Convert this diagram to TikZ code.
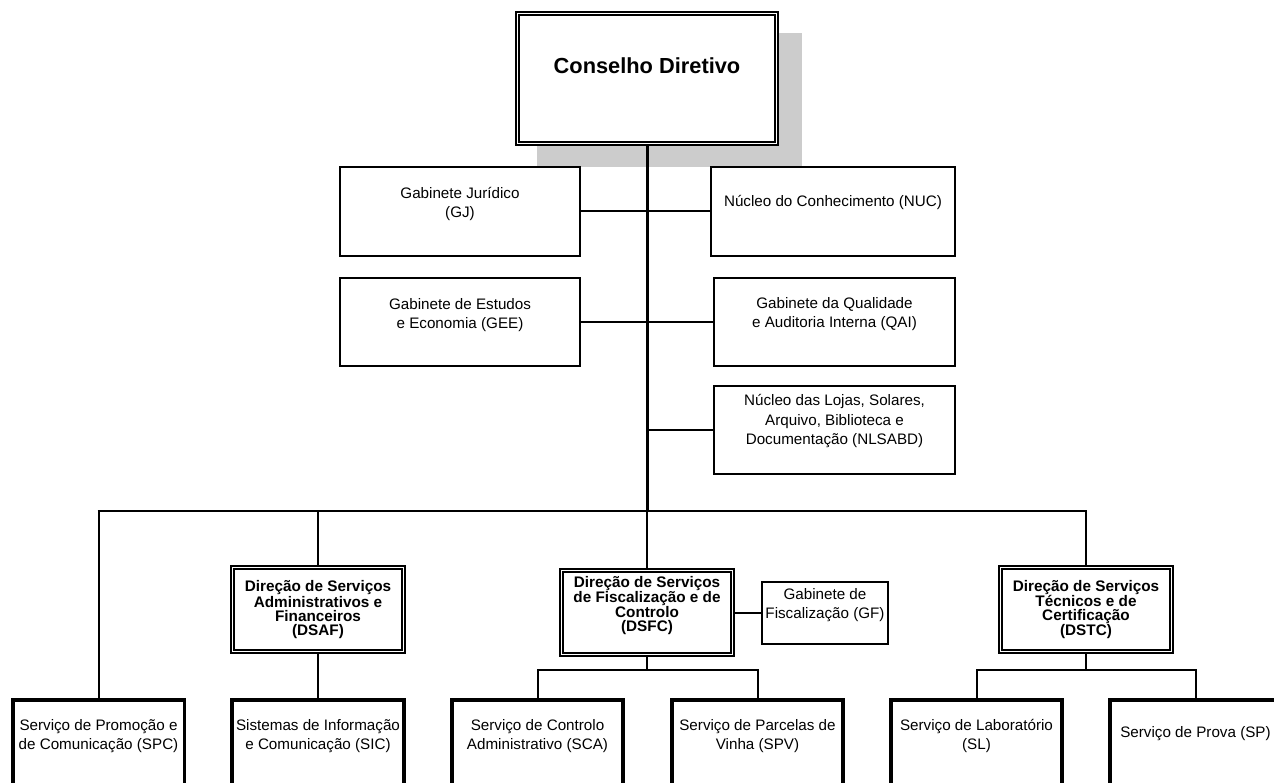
\documentclass[tikz,border=0pt]{standalone}
\usepackage{fontspec}
\setmainfont{Liberation Sans}
\usepackage{tikz}
\definecolor{shadowgray}{HTML}{CCCCCC}
\tikzstyle{box} = [rectangle, draw=black, line width=2pt, fill=white]
\tikzstyle{dbox} = [rectangle, draw=black, double, line width=1.6pt, double distance=1.8pt, outer sep=2.5pt, fill=white]
\tikzstyle{unitbox} = [rectangle, draw=black, line width=3.5pt, fill=white]
\tikzstyle{boxtext} = [align=center, inner sep=0pt, font=\fontsize{15.2}{19.5}\selectfont]
\tikzstyle{headtext} = [align=center, inner sep=0pt, font=\fontsize{15.3}{14}\selectfont\bfseries]
\tikzstyle{link} = [draw=black, line width=2pt]
\tikzstyle{trunk} = [draw=black, line width=3pt]

\begin{document}
\begin{tikzpicture}[x=1pt, y=-1pt]
  \useasboundingbox (0, 0) rectangle (1274, 783);
  \clip (0, 0) rectangle (1274, 783);

  % board
  \fill [shadowgray] (537, 33) rectangle (802, 167);
  \node (cd) [dbox, minimum width=259pt, minimum height=130pt] at (647, 78.5) {};
  \node (cdtxt) [align=center, inner sep=0pt, font=\fontsize{21.8}{26}\selectfont\bfseries] at (647, 66) {Conselho Diretivo};

  % staff units
  \node (gj) [box, minimum width=240pt, minimum height=89pt] at (460, 211.5) {};
  \node (gjtxt) [boxtext] at (460, 204) {Gabinete Jurídico\\(GJ)};
  \node (nuc) [box, minimum width=244pt, minimum height=89pt] at (833, 211.5) {};
  \node (nuctxt) [boxtext] at (833, 202.5) {Núcleo do Conhecimento (NUC)};
  \node (gee) [box, minimum width=240pt, minimum height=88pt] at (460, 322) {};
  \node (geetxt) [boxtext] at (460, 315) {Gabinete de Estudos\\e Economia (GEE)};
  \node (qai) [box, minimum width=241pt, minimum height=88pt] at (834.5, 322) {};
  \node (qaitxt) [boxtext] at (834.5, 314) {Gabinete da Qualidade\\e Auditoria Interna (QAI)};
  \node (nls) [box, minimum width=241pt, minimum height=88pt] at (834.5, 430) {};
  \node (nlstxt) [boxtext] at (834.5, 421.5) {Núcleo das Lojas, Solares,\\Arquivo, Biblioteca e\\Documentação (NLSABD)};

  % directorates
  \node (dsaf) [dbox, minimum width=171pt, minimum height=84pt] at (318, 609.5) {};
  \node (dsaftxt) [headtext] at (318, 609.5) {Direção de Serviços\\Administrativos e\\Financeiros\\(DSAF)};
  \node (dsfc) [dbox, minimum width=171pt, minimum height=84pt] at (647, 612.5) {};
  \node (dsfctxt) [headtext] at (647, 605.5) {Direção de Serviços\\de Fiscalização e de\\Controlo\\(DSFC)};
  \node (gf) [box, minimum width=126pt, minimum height=62pt] at (825, 612.5) {};
  \node (gftxt) [boxtext] at (825, 605) {Gabinete de\\Fiscalização (GF)};
  \node (dstc) [dbox, minimum width=171pt, minimum height=84pt] at (1086, 609.5) {};
  \node (dstctxt) [headtext] at (1086, 609.5) {Direção de Serviços\\Técnicos e de\\Certificação\\(DSTC)};

  % services
  \node (spc) [unitbox, minimum width=171.5pt, minimum height=120pt] at (98.5, 760) {};
  \node (spctxt) [boxtext] at (98.5, 736) {Serviço de Promoção e\\de Comunicação (SPC)};
  \node (sic) [unitbox, minimum width=172pt, minimum height=120pt] at (318, 760) {};
  \node (sictxt) [boxtext] at (318, 736) {Sistemas de Informação\\e Comunicação (SIC)};
  \node (sca) [unitbox, minimum width=171pt, minimum height=120pt] at (537.5, 760) {};
  \node (scatxt) [boxtext] at (537.5, 736) {Serviço de Controlo\\Administrativo (SCA)};
  \node (spv) [unitbox, minimum width=171pt, minimum height=120pt] at (757.5, 760) {};
  \node (spvtxt) [boxtext] at (757.5, 736) {Serviço de Parcelas de\\Vinha (SPV)};
  \node (sl) [unitbox, minimum width=171pt, minimum height=120pt] at (976.5, 760) {};
  \node (sltxt) [boxtext] at (976.5, 736) {Serviço de Laboratório\\(SL)};
  \node (sp) [unitbox, minimum width=171pt, minimum height=120pt] at (1195.5, 760) {};
  \node (sptxt) [boxtext] at (1195.5, 734) {Serviço de Prova (SP)};

  % connectors
  \coordinate (bus) at (647, 511);
  \coordinate (fsc) at (647, 670);
  \coordinate (ftc) at (1086, 670);
  \draw [link] (gj.east) -- (nuc.west);
  \draw [link] (gee.east) -- (qai.west);
  \draw [link] (nls.west) -- (nls.west -| cd.south);
  \draw [trunk] (cd.south) -- (bus);
  \draw [link] (spc.north) -- (spc.north |- bus);
  \draw [link, line width=2.4pt] ([xshift=-1pt]spc.north |- bus) -- (bus);
  \draw [link] (bus) -| (dstc.north);
  \draw [link] (bus) -- (dsfc.north);
  \draw [link] (dsaf.north |- bus) -- (dsaf.north);
  \draw [link] (dsaf.south) -- (sic.north);
  \draw [link] (dsfc.east) -- (gf.west);
  \draw [link] (dsfc.south) -- (fsc);
  \draw [link] (sca.north) |- (fsc) -| (spv.north);
  \draw [link] (dstc.south) -- (ftc);
  \draw [link] (sl.north) |- (ftc) -| (sp.north);
\end{tikzpicture}
\end{document}
